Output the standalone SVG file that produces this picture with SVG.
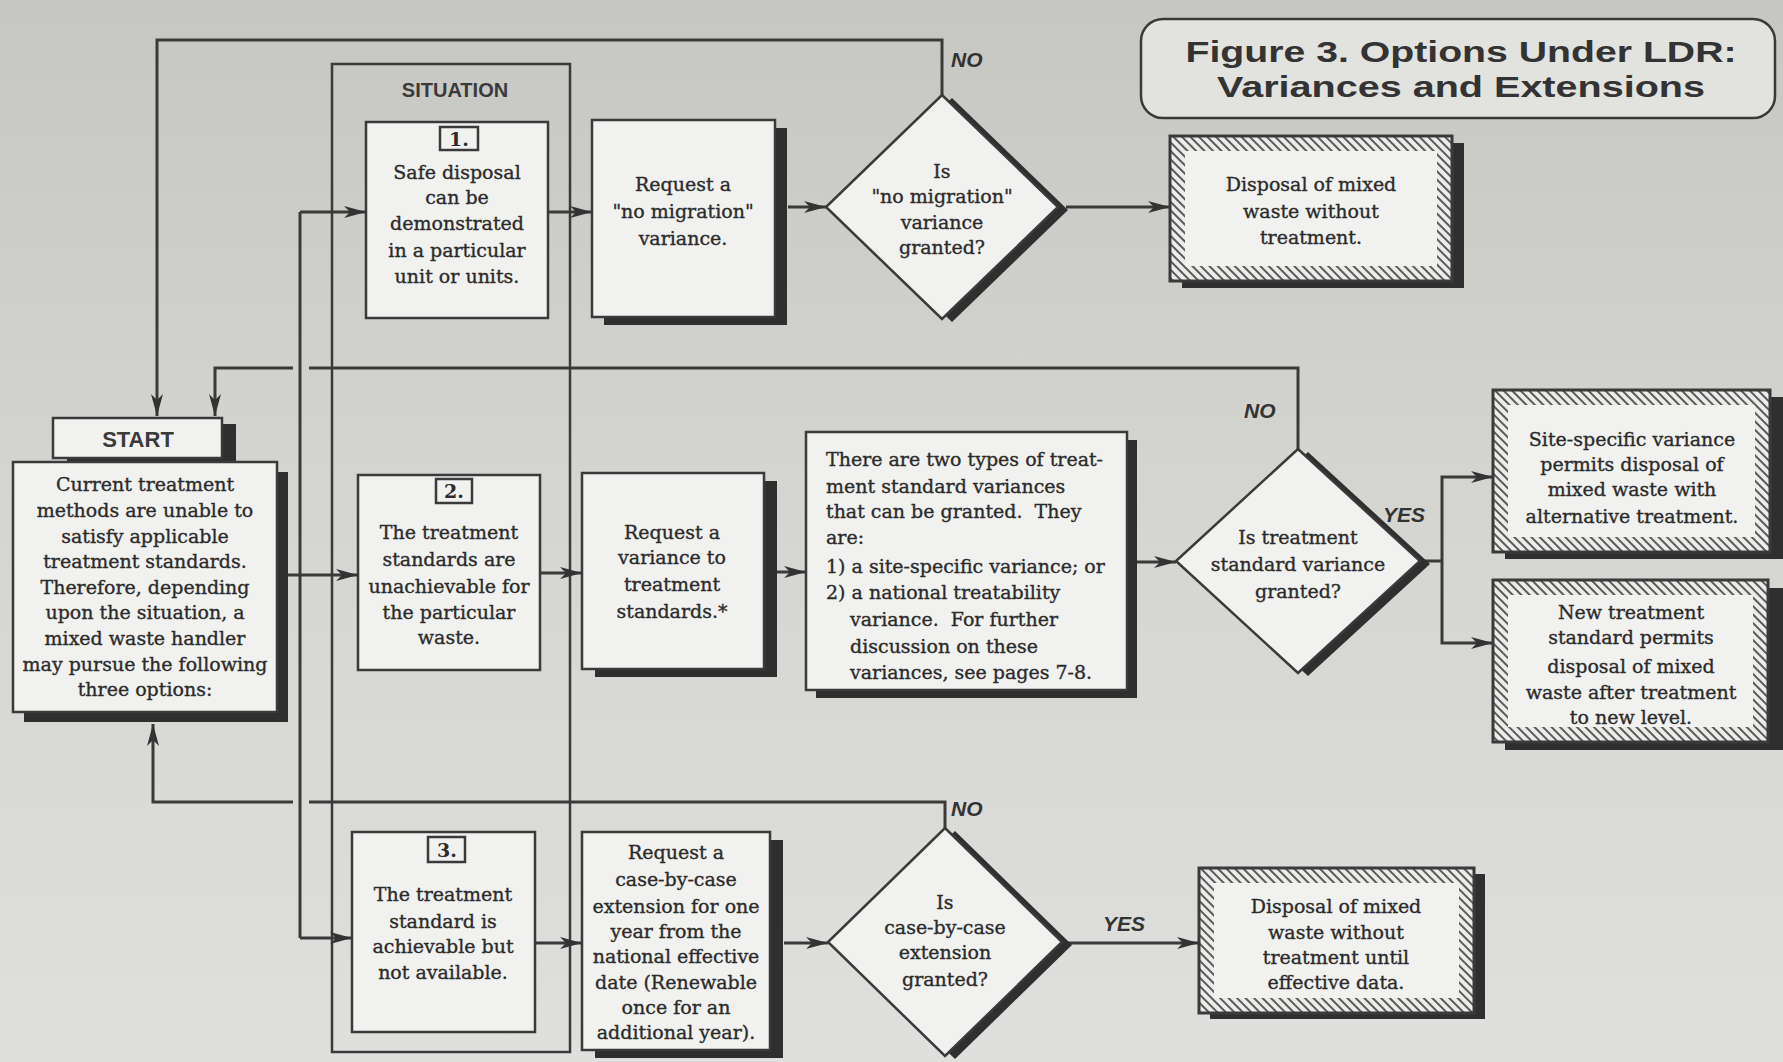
<svg xmlns="http://www.w3.org/2000/svg" width="1783" height="1062" viewBox="0 0 1783 1062">
<defs>
<linearGradient id="bg" x1="0" y1="0" x2="0" y2="1">
<stop offset="0" stop-color="#c6c6c3"/>
<stop offset="0.45" stop-color="#d4d4d1"/>
<stop offset="1" stop-color="#dfdfdd"/>
</linearGradient>
<pattern id="hatch" width="6" height="6" patternUnits="userSpaceOnUse" patternTransform="rotate(-45)">
<rect width="6" height="6" fill="#ececea"/>
<line x1="1" y1="0" x2="1" y2="6" stroke="#4a4a4a" stroke-width="1.8"/>
</pattern>
<marker id="arr" markerUnits="userSpaceOnUse" markerWidth="24" markerHeight="14" refX="22" refY="7" orient="auto">
<path d="M0,1 L22,7 L0,13 L6,7 Z" fill="#333"/>
</marker>
<style>
.bgr{fill:url(#bg)}
.box{fill:#f1f1ef;stroke:#3a3a3a;stroke-width:2.5}
.hb{fill:url(#hatch);stroke:#3a3a3a;stroke-width:3}
.inner{fill:#f1f1ef}
.sh{fill:#2f2f2f}
.sit{fill:none;stroke:#3a3a3a;stroke-width:2.5}
.num{fill:#f1f1ef;stroke:#3a3a3a;stroke-width:2.5}
.t{font-family:"DejaVu Serif","Liberation Serif",serif;font-size:19px;fill:#2b2b2b;stroke:#2b2b2b;stroke-width:0.35;text-anchor:middle}
.tl{font-family:"DejaVu Serif","Liberation Serif",serif;font-size:19px;fill:#2b2b2b;stroke:#2b2b2b;stroke-width:0.35}
.n{font-family:"DejaVu Serif","Liberation Serif",serif;font-size:19px;font-weight:bold;fill:#2b2b2b;text-anchor:middle}
.lab{font-family:"Liberation Sans",Arial,sans-serif;font-size:21px;font-weight:bold;font-style:italic;fill:#333}
.hd{font-family:"Liberation Sans",Arial,sans-serif;font-weight:bold;fill:#3a3a3a;text-anchor:middle}
.title{font-family:"Liberation Sans",Arial,sans-serif;font-weight:bold;font-size:30px;fill:#333;text-anchor:middle}
.conn path{fill:none;stroke:#3a3a3a;stroke-width:3}
.conn .a{marker-end:url(#arr)}
</style>
</defs>
<rect class="bgr" x="0" y="0" width="1783" height="1062"/>

<g id="situation">
<rect class="sit" x="332" y="64" width="238" height="988"/>
<text class="hd" x="455" y="97" font-size="20">SITUATION</text>
</g>

<g id="connectors" class="conn">
<path d="M300,212 V938"/>
<path class="a" d="M300,212 H366"/>
<path class="a" d="M288,575 H358"/>
<path class="a" d="M300,938 H352"/>
<path class="a" d="M548,212 H592"/>
<path class="a" d="M788,207 H826"/>
<path class="a" d="M1066,207 H1170"/>
<path class="a" d="M942,95 V40 H157 V416"/>
<path class="a" d="M540,573 H582"/>
<path class="a" d="M777,572 H806"/>
<path class="a" d="M1137,562 H1176"/>
<path class="a" d="M1298,449 V368 H309 M293,368 H215 V416"/>
<path d="M1420,561 H1442"/>
<path class="a" d="M1442,561 V477 H1493"/>
<path class="a" d="M1442,561 V643 H1493"/>
<path class="a" d="M535,943 H582"/>
<path class="a" d="M784,943 H828"/>
<path class="a" d="M1068,943 H1199"/>
<path class="a" d="M945,828 V802 H309 M293,802 H153 V724"/>
</g>

<g id="start">
<rect class="sh" x="67" y="424" width="169" height="40"/>
<rect class="box" x="53" y="418" width="169" height="40"/>
<text class="hd" x="138" y="447" font-size="22" fill="#444">START</text>
<rect class="sh" x="24" y="472" width="264" height="250"/>
<rect class="box" x="13" y="462" width="264" height="250"/>
<text class="t" x="145" y="491">Current treatment</text>
<text class="t" x="145" y="517">methods are unable to</text>
<text class="t" x="145" y="543">satisfy applicable</text>
<text class="t" x="145" y="568">treatment standards.</text>
<text class="t" x="145" y="594">Therefore, depending</text>
<text class="t" x="145" y="619">upon the situation, a</text>
<text class="t" x="145" y="645">mixed waste handler</text>
<text class="t" x="145" y="671">may pursue the following</text>
<text class="t" x="145" y="696">three options:</text>
</g>

<g id="box1">
<rect class="box" x="366" y="122" width="182" height="196"/>
<rect class="num" x="440" y="127" width="38" height="23"/>
<text class="n" x="459" y="146">1.</text>
<text class="t" x="457" y="179">Safe disposal</text>
<text class="t" x="457" y="204">can be</text>
<text class="t" x="457" y="230">demonstrated</text>
<text class="t" x="457" y="257">in a particular</text>
<text class="t" x="457" y="283">unit or units.</text>
</g>

<g id="box2">
<rect class="box" x="358" y="475" width="182" height="195"/>
<rect class="num" x="436" y="479" width="36" height="24"/>
<text class="n" x="454" y="498">2.</text>
<text class="t" x="449" y="539">The treatment</text>
<text class="t" x="449" y="566">standards are</text>
<text class="t" x="449" y="593">unachievable for</text>
<text class="t" x="449" y="619">the particular</text>
<text class="t" x="449" y="644">waste.</text>
</g>

<g id="box3">
<rect class="box" x="352" y="832" width="183" height="200"/>
<rect class="num" x="428" y="837" width="37" height="25"/>
<text class="n" x="447" y="857">3.</text>
<text class="t" x="443" y="901">The treatment</text>
<text class="t" x="443" y="928">standard is</text>
<text class="t" x="443" y="953">achievable but</text>
<text class="t" x="443" y="979">not available.</text>
</g>

<g id="req-nomig">
<rect class="sh" x="604" y="128" width="183" height="197"/>
<rect class="box" x="592" y="120" width="183" height="197"/>
<text class="t" x="683" y="191" font-size="17.5">Request a</text>
<text class="t" x="683" y="218" font-size="17.5">"no migration"</text>
<text class="t" x="683" y="245" font-size="17.5">variance.</text>
</g>

<g id="req-variance">
<rect class="sh" x="595" y="481" width="182" height="196"/>
<rect class="box" x="582" y="473" width="182" height="196"/>
<text class="t" x="672" y="539" font-size="18">Request a</text>
<text class="t" x="672" y="564" font-size="18">variance to</text>
<text class="t" x="672" y="591" font-size="18">treatment</text>
<text class="t" x="672" y="618" font-size="18">standards.*</text>
</g>

<g id="req-case">
<rect class="sh" x="595" y="840" width="188" height="218"/>
<rect class="box" x="582" y="832" width="188" height="218"/>
<text class="t" x="676" y="859" font-size="18">Request a</text>
<text class="t" x="676" y="886" font-size="18">case-by-case</text>
<text class="t" x="676" y="913" font-size="18">extension for one</text>
<text class="t" x="676" y="938" font-size="18">year from the</text>
<text class="t" x="676" y="963" font-size="18">national effective</text>
<text class="t" x="676" y="989" font-size="18">date (Renewable</text>
<text class="t" x="676" y="1014" font-size="18">once for an</text>
<text class="t" x="676" y="1039" font-size="18">additional year).</text>
</g>

<g id="types">
<rect class="sh" x="816" y="440" width="321" height="258"/>
<rect class="box" x="806" y="432" width="321" height="258"/>
<text class="tl" x="826" y="466">There are two types of treat-</text>
<text class="tl" x="826" y="493">ment standard variances</text>
<text class="tl" x="826" y="518">that can be granted.&#160; They</text>
<text class="tl" x="826" y="544">are:</text>
<text class="tl" x="826" y="573">1) a site-specific variance; or</text>
<text class="tl" x="826" y="599">2) a national treatability</text>
<text class="tl" x="850" y="626">variance.&#160; For further</text>
<text class="tl" x="850" y="653">discussion on these</text>
<text class="tl" x="850" y="679">variances, see pages 7-8.</text>
</g>

<g id="d-nomig">
<polygon class="sh" points="952,98 1068,210 952,322 836,210"/>
<polygon class="box" points="942,95 1058,207 942,319 826,207"/>
<text class="t" x="942" y="178" font-size="18.5">Is</text>
<text class="t" x="942" y="203" font-size="18.5">"no migration"</text>
<text class="t" x="942" y="229" font-size="18.5">variance</text>
<text class="t" x="942" y="254" font-size="18.5">granted?</text>
<text class="lab" x="951" y="67">NO</text>
</g>

<g id="d-variance">
<polygon class="sh" points="1308,452 1430,564 1308,676 1186,564"/>
<polygon class="box" points="1298,449 1420,561 1298,673 1176,561"/>
<text class="t" x="1298" y="544">Is treatment</text>
<text class="t" x="1298" y="571">standard variance</text>
<text class="t" x="1298" y="598">granted?</text>
<text class="lab" x="1244" y="418">NO</text>
<text class="lab" x="1383" y="522">YES</text>
</g>

<g id="d-case">
<polygon class="sh" points="955,831 1072,945 955,1059 838,945"/>
<polygon class="box" points="945,828 1062,942 945,1056 828,942"/>
<text class="t" x="945" y="909" font-size="17">Is</text>
<text class="t" x="945" y="934" font-size="17">case-by-case</text>
<text class="t" x="945" y="959" font-size="17">extension</text>
<text class="t" x="945" y="986" font-size="17">granted?</text>
<text class="lab" x="951" y="816">NO</text>
<text class="lab" x="1103" y="931">YES</text>
</g>

<g id="disp-top">
<rect class="sh" x="1182" y="143" width="282" height="145"/>
<rect class="hb" x="1170" y="136" width="282" height="145"/>
<rect class="inner" x="1185" y="151" width="252" height="115"/>
<text class="t" x="1311" y="191">Disposal of mixed</text>
<text class="t" x="1311" y="218">waste without</text>
<text class="t" x="1311" y="244">treatment.</text>
</g>

<g id="site-specific">
<rect class="sh" x="1505" y="397" width="278" height="162"/>
<rect class="hb" x="1493" y="390" width="277" height="162"/>
<rect class="inner" x="1508" y="405" width="247" height="132"/>
<text class="t" x="1632" y="446">Site-specific variance</text>
<text class="t" x="1632" y="471">permits disposal of</text>
<text class="t" x="1632" y="496">mixed waste with</text>
<text class="t" x="1632" y="523">alternative treatment.</text>
</g>

<g id="new-standard">
<rect class="sh" x="1505" y="588" width="278" height="162"/>
<rect class="hb" x="1493" y="580" width="275" height="162"/>
<rect class="inner" x="1508" y="595" width="245" height="132"/>
<text class="t" x="1631" y="619">New treatment</text>
<text class="t" x="1631" y="644">standard permits</text>
<text class="t" x="1631" y="673">disposal of mixed</text>
<text class="t" x="1631" y="699">waste after treatment</text>
<text class="t" x="1631" y="724">to new level.</text>
</g>

<g id="disp-until">
<rect class="sh" x="1210" y="874" width="275" height="145"/>
<rect class="hb" x="1199" y="868" width="275" height="145"/>
<rect class="inner" x="1214" y="883" width="245" height="115"/>
<text class="t" x="1336" y="913">Disposal of mixed</text>
<text class="t" x="1336" y="939">waste without</text>
<text class="t" x="1336" y="964">treatment until</text>
<text class="t" x="1336" y="989">effective data.</text>
</g>

<g id="title-box">
<rect x="1141" y="19" width="634" height="99" rx="22" ry="22" fill="#e2e2df" stroke="#3a3a3a" stroke-width="2.5"/>
<text class="title" x="1461" y="62" textLength="551" lengthAdjust="spacingAndGlyphs">Figure 3. Options Under LDR:</text>
<text class="title" x="1461" y="97" textLength="488" lengthAdjust="spacingAndGlyphs">Variances and Extensions</text>
</g>
</svg>
